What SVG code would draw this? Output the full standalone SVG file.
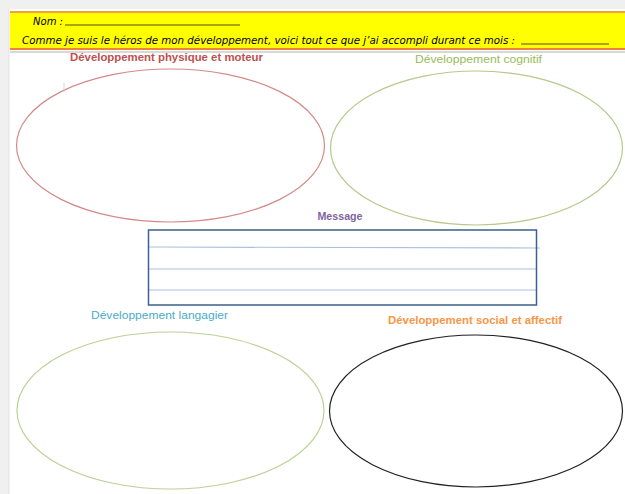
<svg xmlns="http://www.w3.org/2000/svg" width="625" height="494" viewBox="0 0 625 494">
<style>
.ell{fill:none;stroke-width:1.2}
.t{font-family:"Liberation Sans",Arial,sans-serif;font-size:11.5px}
.b{font-weight:bold}
.hand{font-family:"DejaVu Sans","Liberation Sans",sans-serif;font-style:italic;font-size:10.5px;fill:#000}
.ml{stroke:#a9c2e0;stroke-width:1.2}
</style>
<rect x="0" y="0" width="625" height="494" fill="#f0f0f0"/>
<rect x="9" y="9" width="616" height="485" fill="#ffffff"/>
<line x1="9" y1="9" x2="9" y2="494" stroke="#e2e2e2" stroke-width="1"/>
<g id="banner">
<rect x="10" y="51" width="615" height="2" fill="#d8d8d8"/>
<rect x="10" y="11" width="615" height="39" fill="#ffff00"/>
<line x1="10" y1="12" x2="625" y2="12" stroke="#f5a040" stroke-width="2"/>
<line x1="10" y1="49" x2="625" y2="49" stroke="#f08040" stroke-width="2"/>
<text class="hand" x="33" y="25" textLength="30" lengthAdjust="spacingAndGlyphs">Nom :</text>
<line x1="65" y1="25" x2="240" y2="25" stroke="#222" stroke-width="0.8"/>
<text class="hand" x="22" y="44" textLength="493" lengthAdjust="spacingAndGlyphs">Comme je suis le héros de mon développement, voici tout ce que j’ai accompli durant ce mois :</text>
<line x1="521" y1="44" x2="609" y2="44" stroke="#222" stroke-width="0.8"/>
</g>
<g id="physique">
<text class="t b" x="70" y="61" fill="#c0504d" textLength="193" lengthAdjust="spacingAndGlyphs">Développement physique et moteur</text>
<ellipse class="ell" cx="170.5" cy="145.5" rx="154" ry="76.5" stroke="#d48a8a"/>
<line x1="64" y1="83" x2="64" y2="92" stroke="#c8c8c8" stroke-width="0.8"/>
</g>
<g id="cognitif">
<text class="t" x="415" y="63" fill="#9bbb59" textLength="127" lengthAdjust="spacingAndGlyphs">Développement cognitif</text>
<ellipse class="ell" cx="476.5" cy="148" rx="146" ry="77" stroke="#b5c98a"/>
</g>
<g id="message">
<text class="t b" x="340" y="220" fill="#8064a2" text-anchor="middle" textLength="45" lengthAdjust="spacingAndGlyphs">Message</text>
<line class="ml" x1="148" y1="247" x2="540" y2="248"/>
<line class="ml" x1="148" y1="269" x2="537" y2="269"/>
<line class="ml" x1="148" y1="290" x2="537" y2="290"/>
<rect x="148.5" y="230" width="388" height="75" fill="none" stroke="#3d5f8f" stroke-width="1.5"/>
</g>
<g id="langagier">
<text class="t" x="91" y="319" fill="#4bacc6" textLength="137" lengthAdjust="spacingAndGlyphs">Développement langagier</text>
<ellipse class="ell" cx="170.5" cy="410.5" rx="153.5" ry="78.5" stroke="#bcd196"/>
</g>
<g id="social">
<text class="t b" x="388" y="324" fill="#f79646" textLength="174" lengthAdjust="spacingAndGlyphs">Développement social et affectif</text>
<ellipse class="ell" cx="476" cy="411" rx="146.5" ry="76" stroke="#222222" stroke-width="1.4"/>
</g>
<g id="connectors"></g>
</svg>
